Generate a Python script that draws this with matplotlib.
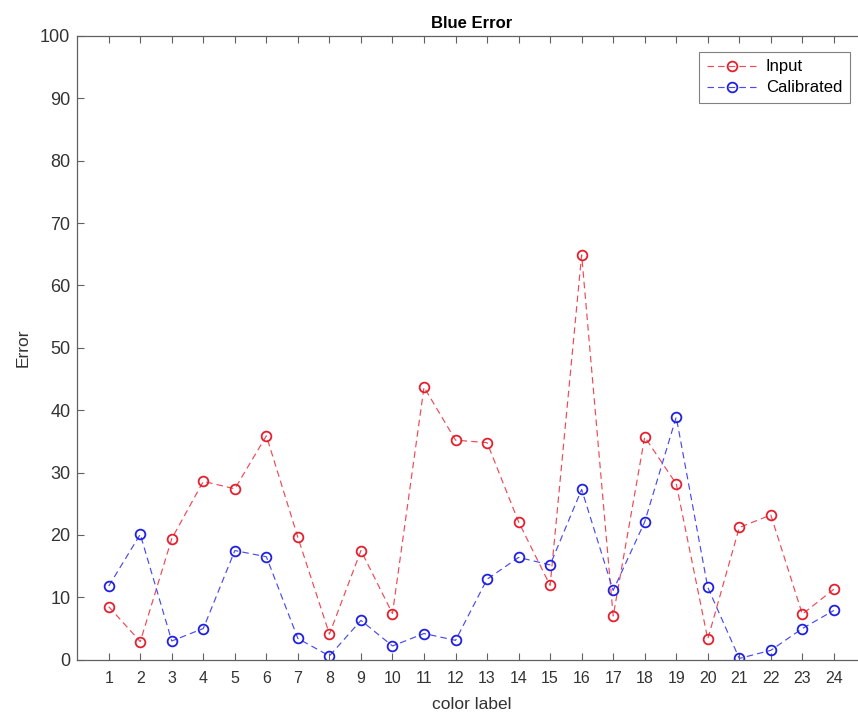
import matplotlib
matplotlib.use("Agg")
import matplotlib.pyplot as plt

labels = list(range(1, 25))
input_err = [8.5, 2.9, 19.4, 28.6, 27.4, 35.9, 19.6, 4.1, 17.5, 7.4, 43.7, 35.2,
             34.8, 22.1, 11.9, 64.9, 7.0, 35.7, 28.2, 3.3, 21.2, 23.2, 7.3, 11.3]
calib_err = [11.8, 20.1, 3.0, 5.0, 17.5, 16.5, 3.4, 0.6, 6.3, 2.2, 4.2, 3.1,
             12.9, 16.4, 15.2, 27.3, 11.1, 22.1, 38.9, 11.6, 0.2, 1.5, 5.0, 7.9]
yticks = list(range(0, 101, 10))

plt.rcParams['font.family'] = ['Liberation Sans', 'DejaVu Sans']

W, H = 858, 715
fig = plt.figure(figsize=(W / 100, H / 100), dpi=100)
ax = fig.add_axes([77.2 / W, 1 - 659.7 / H, (865.4 - 77.2) / W, (659.7 - 36) / H])

dash = (0, (5.5, 3.5))
ax.plot(labels, input_err, linestyle=dash, color='#ee4a55', linewidth=0.85,
        marker='o', markersize=7.0, markerfacecolor='none', markeredgewidth=1.3,
        markeredgecolor='#e3202e', label='Input')
ax.plot(labels, calib_err, linestyle=dash, color='#4a4aee', linewidth=0.85,
        marker='o', markersize=7.0, markerfacecolor='none', markeredgewidth=1.3,
        markeredgecolor='#2020e0', label='Calibrated')

ax.set_xlim(0, 25)
ax.set_ylim(0, 100)
ax.set_xticks(labels)
ax.set_yticks(yticks)

axcol = '#606060'
for s in ax.spines.values():
    s.set_color(axcol)
    s.set_linewidth(0.9)
ax.tick_params(direction='in', length=5, width=0.8, color=axcol, labelcolor='#333333',
               top=True, right=True)
ax.tick_params(axis='x', pad=8, labelsize=11.5)
ax.tick_params(axis='y', pad=5, labelsize=13)

ax.set_title('Blue Error', fontsize=12, fontweight='bold', pad=6)
ax.set_xlabel('color label', fontsize=12.5, color='#333333', labelpad=8)
ax.set_ylabel('Error', fontsize=12.5, color='#333333', labelpad=7)

leg = ax.legend(loc='upper right', bbox_to_anchor=(849.7 / W, 1 - 52 / H),
                bbox_transform=fig.transFigure, borderaxespad=0, fontsize=12,
                handlelength=3.0, fancybox=False, framealpha=1, edgecolor='#808080',
                borderpad=0.45, labelspacing=0.35, handletextpad=0.55)
leg.get_frame().set_linewidth(0.8)

fig.savefig('out.png', dpi=100)
